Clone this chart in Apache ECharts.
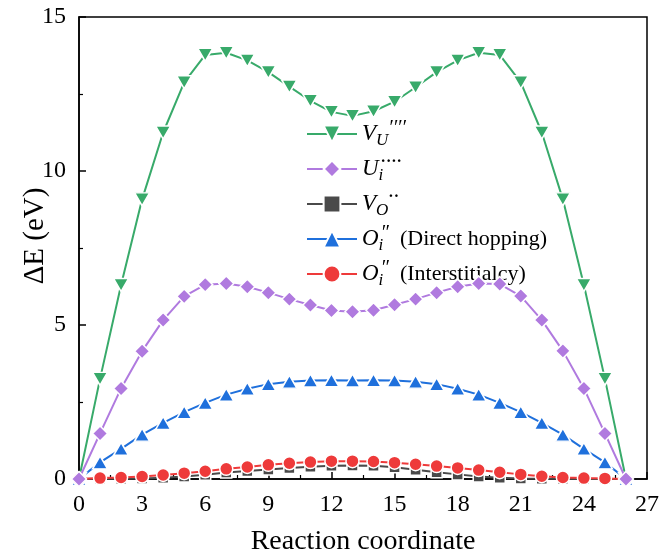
<!DOCTYPE html>
<html>
<head>
<meta charset="utf-8">
<script src="https://cdn.jsdelivr.net/npm/echarts@6/dist/echarts.min.js"></script>
<style>
  html, body { margin: 0; padding: 0; background: #fff; }
  #chart { width: 666px; height: 557px; }
</style>
</head>
<body>
<div id="chart"></div>
<script>
// Reaction coordinate (image index along the migration path)
const coord = [0, 1, 2, 3, 4, 5, 6, 7, 8, 9, 10, 11, 12, 13, 14, 15, 16, 17, 18, 19, 20, 21, 22, 23, 24, 25, 26];

// Energy barriers ΔE (eV) for each defect migration
const vU = [0, 3.25, 6.3, 9.08, 11.25, 12.88, 13.77, 13.84, 13.59, 13.21, 12.74, 12.28, 11.92, 11.79, 11.94, 12.25, 12.72, 13.21, 13.59, 13.84, 13.77, 12.88, 11.25, 9.08, 6.3, 3.25, 0];
const uI = [0, 1.48, 2.94, 4.15, 5.16, 5.93, 6.31, 6.35, 6.24, 6.05, 5.84, 5.65, 5.47, 5.43, 5.48, 5.66, 5.84, 6.05, 6.24, 6.35, 6.33, 5.94, 5.16, 4.16, 2.94, 1.48, 0];
const vO = [0, 0.01, 0.01, 0.02, 0.04, 0.08, 0.14, 0.21, 0.26, 0.31, 0.36, 0.4, 0.43, 0.44, 0.43, 0.38, 0.3, 0.22, 0.15, 0.08, 0.04, 0.02, 0.01, 0.01, 0, 0, 0];
const oiDirect = [0, 0.54, 0.98, 1.44, 1.82, 2.17, 2.47, 2.74, 2.93, 3.08, 3.16, 3.2, 3.21, 3.2, 3.21, 3.2, 3.16, 3.08, 2.93, 2.74, 2.47, 2.17, 1.82, 1.44, 0.98, 0.54, 0];
const oiInter = [0, 0.03, 0.05, 0.08, 0.13, 0.19, 0.25, 0.33, 0.39, 0.46, 0.51, 0.55, 0.58, 0.58, 0.57, 0.53, 0.48, 0.42, 0.36, 0.29, 0.22, 0.15, 0.09, 0.05, 0.03, 0.02, 0];

// Axis ticks
const xTicks = [0, 3, 6, 9, 12, 15, 18, 21, 24, 27];
const yTicks = [0, 5, 10, 15];

// Legend labels in Kröger–Vink notation (rich-text markup)
const legendLabels = {
  'VU': '{it|V}{sub|U}{sup|\u2032\u2032\u2032\u2032}',
  'Ui': '{it|U}{subn|i}{dot|\u00b7\u00b7\u00b7\u00b7}',
  'VO': '{it|V}{sub|O}{dot|\u00b7\u00b7}',
  'OiD': '{it|O}{subn|i}{sup|\u2033}{tx|  (Direct hopping)}',
  'OiI': '{it|O}{subn|i}{sup|\u2033}{tx|  (Interstitialcy)}'
};

const FONT = 'Liberation Serif';

function pairs(vals) {
  return coord.map((c, i) => [c, vals[i]]);
}

function makeSeries(name, vals, color, symbol, size, rotate, z) {
  return {
    name: name,
    type: 'line',
    data: pairs(vals),
    symbol: symbol,
    symbolSize: size,
    symbolRotate: rotate,
    showAllSymbol: true,
    z: z,
    lineStyle: { color: color, width: 2 },
    itemStyle: { color: color, borderColor: '#ffffff', borderWidth: 1.5 },
    emphasis: { disabled: true },
    animation: false
  };
}

const chart = echarts.init(document.getElementById('chart'), null, { renderer: 'canvas' });

const axisCommon = {
  nameMoveOverlap: false,
  axisLine: { show: true, onZero: false, lineStyle: { color: '#000', width: 1.5 } },
  axisTick: { show: true, inside: true, length: 7, lineStyle: { color: '#000', width: 1.5 } },
  minorTick: { show: true, splitNumber: 2, length: 4, lineStyle: { color: '#000', width: 1.2 } },
  splitLine: { show: false },
  axisLabel: { color: '#000', fontFamily: FONT, fontSize: 24 },
  nameTextStyle: { color: '#000', fontFamily: FONT, fontSize: 28 }
};

chart.setOption({
  backgroundColor: '#ffffff',
  animation: false,
  grid: {
    left: 79, right: 19, top: 17, bottom: 78,
    containLabel: false,
    outerBoundsMode: 'none',
    show: true, borderColor: '#000', borderWidth: 1.5, backgroundColor: 'transparent'
  },
  xAxis: Object.assign({}, axisCommon, {
    type: 'value',
    min: xTicks[0], max: xTicks[xTicks.length - 1], interval: xTicks[1] - xTicks[0],
    name: 'Reaction coordinate',
    nameLocation: 'middle',
    nameGap: 49,
    axisLabel: Object.assign({}, axisCommon.axisLabel, { margin: 14 })
  }),
  yAxis: Object.assign({}, axisCommon, {
    type: 'value',
    min: yTicks[0], max: yTicks[yTicks.length - 1], interval: yTicks[1] - yTicks[0],
    name: '\u0394E (eV)',
    nameLocation: 'middle',
    nameGap: 29,
    nameTextStyle: Object.assign({}, axisCommon.nameTextStyle, { fontSize: 29, padding: [0, 0, 0, 24] }),
    axisLabel: Object.assign({}, axisCommon.axisLabel, { margin: 13 })
  }),
  legend: {
    orient: 'vertical',
    left: 301,
    top: 114,
    itemWidth: 50,
    itemHeight: 21,
    itemGap: 5,
    selectedMode: false,
    formatter: function (name) { return legendLabels[name]; },
    textStyle: {
      color: '#000',
      fontFamily: FONT,
      fontSize: 22,
      rich: {
        it: { fontFamily: FONT, fontStyle: 'italic', fontSize: 23, lineHeight: 30, color: '#000' },
        tx: { fontFamily: FONT, fontSize: 22, lineHeight: 30, color: '#000' },
        sub: { fontFamily: FONT, fontStyle: 'italic', fontSize: 17, lineHeight: 10, verticalAlign: 'bottom', color: '#000' },
        subn: { fontFamily: FONT, fontStyle: 'italic', fontSize: 17, lineHeight: 10, width: 2, verticalAlign: 'bottom', color: '#000' },
        sup: { fontFamily: FONT, fontStyle: 'italic', fontSize: 20, lineHeight: 18, verticalAlign: 'top', color: '#000' },
        dot: { fontFamily: FONT, fontWeight: 'bold', fontSize: 16, lineHeight: 16, verticalAlign: 'top', color: '#000' }
      }
    },
    data: ['VU', 'Ui', 'VO', 'OiD', 'OiI']
  },
  series: [
    makeSeries('VU', vU, '#38AA6A', 'triangle', [15, 13], 180, 2),
    makeSeries('Ui', uI, '#B07ADF', 'diamond', [15, 15], 0, 4),
    makeSeries('VO', vO, '#4A4A4A', 'rect', [11, 11], 0, 2),
    makeSeries('OiD', oiDirect, '#1F70DC', 'triangle', [15, 13], 0, 2),
    makeSeries('OiI', oiInter, '#EE3A3A', 'circle', [13, 13], 0, 3)
  ]
});
</script>
</body>
</html>
